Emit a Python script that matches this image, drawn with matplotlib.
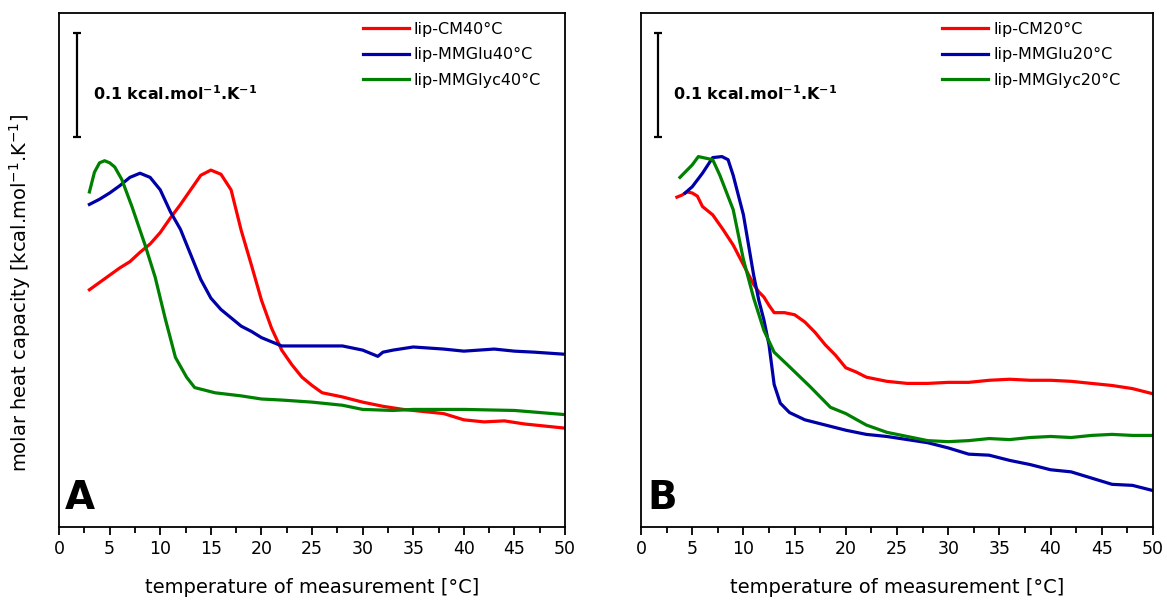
import numpy as np
import matplotlib
matplotlib.use("Agg")
import matplotlib.pyplot as plt

# Panel A: heated to 40 °C  (cp in kcal.mol-1.K-1, arbitrary offset)
a_cm_t = [3, 4, 5, 6, 7, 8, 9, 10, 11, 12, 13, 14, 15, 16, 17, 18, 19, 20, 21, 22, 23, 24, 25,
          26, 27, 28, 30, 32, 34, 36, 38, 40, 42, 44, 46, 48, 50]
a_cm_cp = [0.228, 0.235, 0.242, 0.249, 0.255, 0.264, 0.272, 0.283, 0.297, 0.310, 0.324, 0.338,
           0.343, 0.339, 0.324, 0.285, 0.252, 0.218, 0.191, 0.170, 0.156, 0.144, 0.136, 0.129,
           0.127, 0.125, 0.120, 0.116, 0.113, 0.111, 0.109, 0.103, 0.101, 0.102, 0.099, 0.097, 0.095]

a_glu_t = [3, 4, 5, 6, 7, 8, 9, 10, 11, 12, 13, 14, 15, 16, 17, 18, 19, 20, 22, 25, 28, 30,
           31.5, 32, 33, 35, 38, 40, 43, 45, 47, 50]
a_glu_cp = [0.310, 0.315, 0.321, 0.328, 0.336, 0.340, 0.336, 0.324, 0.303, 0.286, 0.262, 0.238,
            0.220, 0.209, 0.201, 0.193, 0.188, 0.182, 0.174, 0.174, 0.174, 0.170, 0.164, 0.168,
            0.170, 0.173, 0.171, 0.169, 0.171, 0.169, 0.168, 0.166]

a_glyc_t = [3, 3.5, 4, 4.5, 5, 5.5, 6.2, 7.2, 8.5, 9.5, 10.5, 11.5, 12.6, 13.4, 15.4, 18, 20,
            22, 25, 28, 30, 33, 35, 40, 45, 50]
a_glyc_cp = [0.322, 0.341, 0.350, 0.352, 0.350, 0.346, 0.334, 0.308, 0.271, 0.240, 0.200, 0.163,
             0.144, 0.134, 0.129, 0.126, 0.123, 0.122, 0.120, 0.117, 0.113, 0.112, 0.113, 0.113,
             0.112, 0.108]

# Panel B: heated to 20 °C
b_cm_t = [3.5, 4, 4.5, 5, 5.5, 6, 7, 8, 9, 10, 11, 11.5, 12, 12.5, 13, 14, 15, 16, 17, 18, 19,
          20, 21, 22, 24, 26, 28, 30, 32, 34, 36, 38, 40, 42, 44, 46, 48, 50]
b_cm_cp = [0.317, 0.319, 0.322, 0.321, 0.318, 0.308, 0.300, 0.286, 0.271, 0.252, 0.233, 0.226,
           0.221, 0.213, 0.206, 0.206, 0.204, 0.197, 0.187, 0.175, 0.165, 0.153, 0.149, 0.144,
           0.140, 0.138, 0.138, 0.139, 0.139, 0.141, 0.142, 0.141, 0.141, 0.140, 0.138, 0.136,
           0.133, 0.128]

b_glu_t = [4.3, 5, 6, 7, 7.9, 8.5, 9, 10, 11, 11.5, 12, 12.5, 13, 13.6, 14.5, 16, 18, 20, 22,
           24, 26, 28, 30, 32, 34, 36, 38, 40, 42, 44, 46, 48, 50]
b_glu_cp = [0.321, 0.327, 0.340, 0.355, 0.356, 0.353, 0.338, 0.300, 0.242, 0.218, 0.199, 0.175,
            0.137, 0.119, 0.110, 0.103, 0.098, 0.093, 0.089, 0.087, 0.084, 0.081, 0.076, 0.070,
            0.069, 0.064, 0.060, 0.055, 0.053, 0.047, 0.041, 0.040, 0.035]

b_glyc_t = [3.8, 5, 5.6, 7, 7.7, 9, 10, 11, 12, 13, 14.5, 16.5, 18.5, 20, 22, 24, 26, 28, 30,
            32, 34, 36, 38, 40, 42, 44, 46, 48, 50]
b_glyc_cp = [0.336, 0.348, 0.356, 0.353, 0.338, 0.305, 0.257, 0.220, 0.189, 0.168, 0.154, 0.135,
             0.115, 0.109, 0.098, 0.091, 0.087, 0.083, 0.082, 0.083, 0.085, 0.084, 0.086, 0.087,
             0.086, 0.088, 0.089, 0.088, 0.088]

labels_a = ["lip-CM40°C", "lip-MMGlu40°C", "lip-MMGlyc40°C"]
labels_b = ["lip-CM20°C", "lip-MMGlu20°C", "lip-MMGlyc20°C"]
colors = ["#ff0000", "#0000a8", "#008000"]

scale_bar = 0.1


def draw_panel(ax, series, labels, letter, bar_x, text_x, leg_x):
    for (t, cp), lab, c in zip(series, labels, colors):
        ax.plot(t, cp, color=c, lw=2.3, label=lab)
    ax.set_xlim(0, 50)
    ax.set_ylim(0, 0.494)
    ax.set_xticks(np.arange(0, 51, 5))
    ax.set_xticks(np.arange(0, 51, 2.5), minor=True)
    ax.set_yticks([])
    ax.tick_params(axis="x", which="major", direction="out", length=6, width=1.3, labelsize=12.5)
    ax.tick_params(axis="x", which="minor", direction="out", length=4, width=1.3)
    for s in ax.spines.values():
        s.set_linewidth(1.3)
    ax.set_xlabel("temperature of measurement [°C]", fontsize=14, labelpad=14)

    # scale bar
    ax.errorbar([bar_x], [0.425], yerr=scale_bar / 2, color="black", capsize=3, lw=1.6,
                capthick=1.6)
    ax.text(text_x, 0.416, "0.1 kcal.mol$^{\\mathbf{-1}}$.K$^{\\mathbf{-1}}$", fontsize=11.5,
            fontweight="bold", va="center", ha="left")

    ax.text(0.012, 0.02, letter, transform=ax.transAxes, fontsize=28, fontweight="bold",
            ha="left", va="bottom")
    ax.legend(loc="upper left", bbox_to_anchor=(leg_x, 0.983), frameon=False, fontsize=11.5,
              handlelength=2.9, handletextpad=0.3, labelspacing=0.65, borderaxespad=0,
              borderpad=0)


fig = plt.figure(figsize=(11.67, 6.04), dpi=100)
ax_a = fig.add_axes([0.0506, 0.1275, 0.4336, 0.851])
ax_b = fig.add_axes([0.5493, 0.1275, 0.4387, 0.851])

draw_panel(ax_a, [(a_cm_t, a_cm_cp), (a_glu_t, a_glu_cp), (a_glyc_t, a_glyc_cp)],
           labels_a, "A", 1.78, 3.4, 0.60)
draw_panel(ax_b, [(b_cm_t, b_cm_cp), (b_glu_t, b_glu_cp), (b_glyc_t, b_glyc_cp)],
           labels_b, "B", 1.66, 3.1, 0.588)

ax_a.set_ylabel("molar heat capacity [kcal.mol$^{-1}$.K$^{-1}$]", fontsize=14)
ax_a.yaxis.set_label_coords(-0.052, 0.455)

fig.savefig("out.png", dpi=100)
